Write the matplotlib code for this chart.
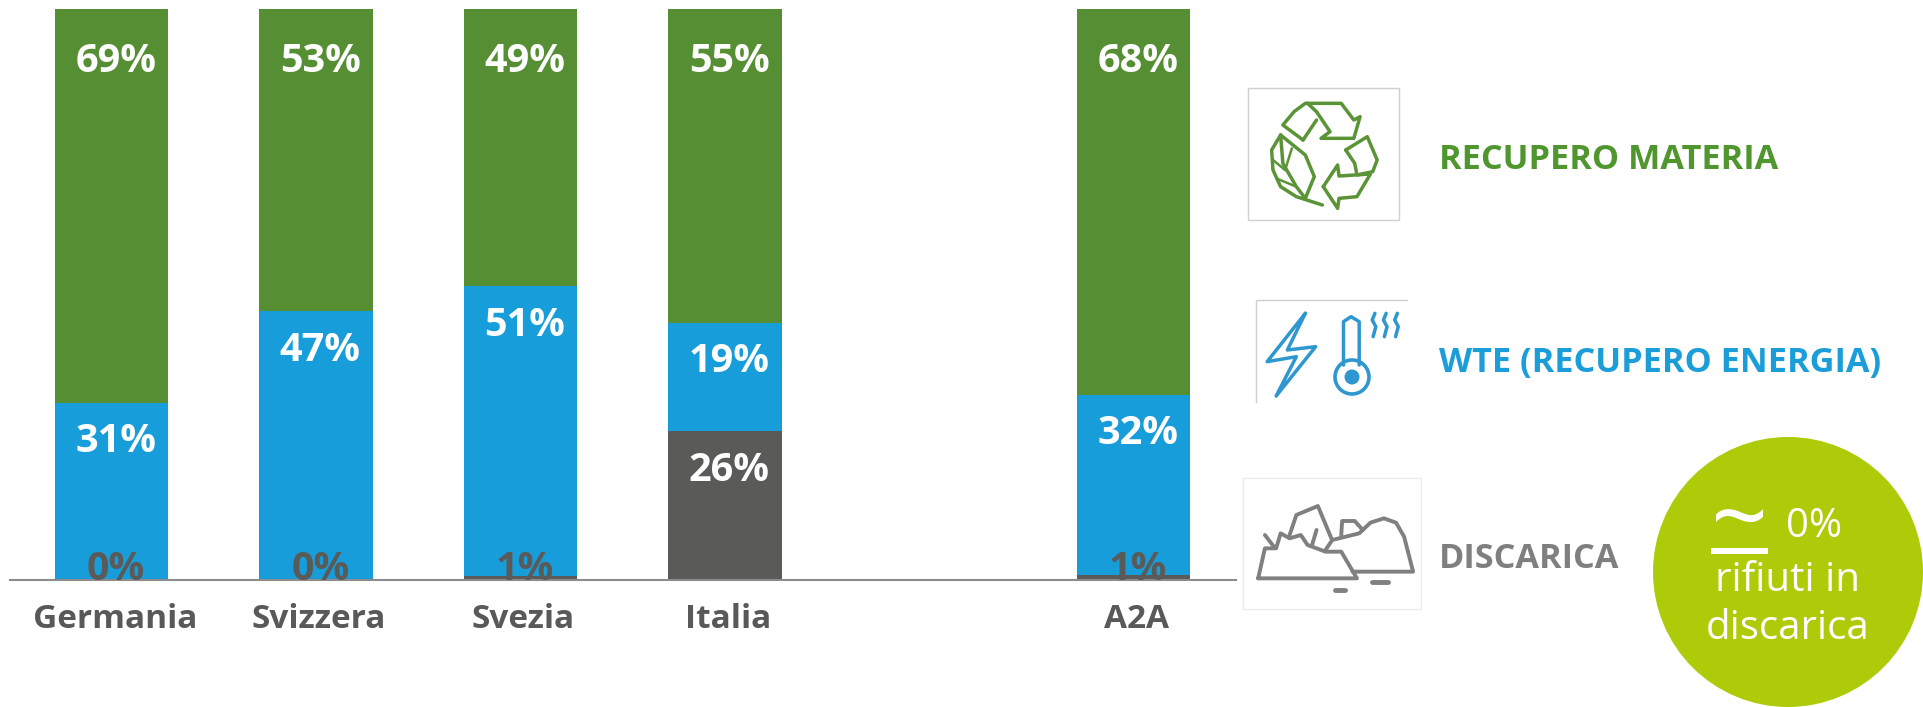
import numpy as np
import matplotlib
matplotlib.use("Agg")
from matplotlib import pyplot as plt
from matplotlib.patches import Circle, Rectangle
from matplotlib.transforms import ScaledTranslation

plt.rcParams['font.family'] = ['Open Sans', 'DejaVu Sans']

#%% data
paesi = ["Germania", "Svizzera", "Svezia", "Italia", "", "A2A"]
discarica = [0, 0, 0.6, 26, np.nan, 0.8]
wte = [31, 47, 50.8, 19, np.nan, 31.6]
materia = [69, 53, 48.6, 55, np.nan, 67.6]

VERDE = "#568f33"
BLU = "#189ddb"
GRIGIO = "#5a5a58"

W, H = 1924, 707
fig = plt.figure(figsize=(W/100, H/100), dpi=100)

#%% stacked bars
ax = fig.add_axes([9.5/W, 1 - 579.5/H, 1226.4/W, 570.5/H])
x = np.arange(len(paesi))
d = np.array(discarica)
w = np.array(wte)
m = np.array(materia)
larg = 0.555
ax.bar(x, d, larg, color=GRIGIO)
ax.bar(x, w, larg, bottom=d, color=BLU)
ax.bar(x, m, larg, bottom=d + w, color=VERDE)
ax.set_xlim(-0.5, 5.5)
ax.set_ylim(0, 100)
ax.set_yticks([])
ax.set_xticks(x)
ax.set_xticklabels(paesi, fontsize=24, fontweight="bold", color="#595959")
ax.tick_params(axis="x", length=0, pad=17)
# labels sit a bit right of the bar centres in the original
for t in ax.get_xticklabels():
    t.set_transform(t.get_transform() + ScaledTranslation(0.03, 0, fig.dpi_scale_trans))
for s in ["top", "left", "right"]:
    ax.spines[s].set_visible(False)
ax.spines["bottom"].set_color("#8c8c8c")
ax.spines["bottom"].set_linewidth(1.5)

def etichetta(xi, top, val, px, col="white"):
    ax.annotate("%.0f%%" % val, (xi, top), xytext=(3, -px*0.72), textcoords="offset points",
                ha="center", va="center", fontsize=28.5, fontweight="bold", color=col, zorder=5)

for i in range(len(paesi)):
    if paesi[i] == "":
        continue
    etichetta(x[i], d[i] + w[i] + m[i], m[i], 53)
    etichetta(x[i], d[i] + w[i], w[i], 39)
    if d[i] > 5:
        etichetta(x[i], d[i], d[i], 39)
    else:
        # the small ones sit on the baseline, dark on the blue
        ax.annotate("%.0f%%" % d[i], (x[i], 0), xytext=(3, 0), textcoords="offset points",
                    ha="center", va="baseline", fontsize=28.5,
                    fontweight="bold", color=GRIGIO, zorder=5)

#%% overlay in pixel coords for icons, legend, circle
ov = fig.add_axes([0, 0, 1, 1], facecolor="none")
ov.set_xlim(0, W)
ov.set_ylim(H, 0)
ov.axis("off")

def zp(pts, y0):
    # points measured on the zoomed crops -> pixels
    pts = np.array(pts, dtype=float)
    return 1220 + pts[:, 0]/2.227, y0 + pts[:, 1]/3.0

def linea(pts, y0, col, lw=2.5):
    xs, ys = zp(pts, y0)
    ov.plot(xs, ys, color=col, lw=lw, solid_capstyle="round", solid_joinstyle="round")

# legend text
ov.text(1439, 160, "RECUPERO MATERIA", color="#4f962f", fontsize=24.7, fontweight="bold", va="center")
ov.text(1439, 363, "WTE (RECUPERO ENERGIA)", color="#1a9dd9", fontsize=24.7, fontweight="bold", va="center")
ov.text(1439, 559, "DISCARICA", color="#7f7f7f", fontsize=24.7, fontweight="bold", va="center")

# icon frames
ov.add_patch(Rectangle((1248, 88), 151, 132, fc="none", ec="#d0d0d0", lw=1))
ov.plot([1256, 1256, 1407], [402, 300, 300], color="#d0d0d0", lw=1)
ov.add_patch(Rectangle((1243, 478), 178, 131, fc="none", ec="#ececec", lw=1))

# recycling icon
G = "#5a9436"
linea([(185,210),(140,165),(165,125),(190,100),(270,100),(298,150),(312,140),(298,205),(225,205),(245,185),(215,125),(195,100)], 70, G)
linea([(185,210),(215,150)], 70, G)
linea([(280,240),(328,200),(350,270),(340,305),(305,315),(300,280),(280,240)], 70, G)
linea([(230,350),(262,285),(265,318),(335,312),(305,380),(265,385),(262,415),(230,350)], 70, G)
linea([(135,195),(115,240),(118,300),(135,350),(170,380),(228,405)], 70, G)
linea([(135,195),(190,255),(210,320),(190,385)], 70, G)
linea([(135,195),(140,280),(170,350),(190,385)], 70, G)
linea([(118,270),(145,300)], 70, G, 1.8)
linea([(125,325),(170,350)], 70, G, 1.8)
linea([(160,235),(145,300)], 70, G, 1.8)

# energy icon
B = "#2f97cf"
linea([(190,730),(105,875),(170,860),(125,978),(213,830),(150,840),(190,730)], 70, B)
linea([(275,885),(275,755),(292,740),(310,755),(310,885)], 70, B)
ov.add_patch(Circle((1352, 377), 17, fc="none", ec=B, lw=2.6))
ov.add_patch(Circle((1352, 377), 7.5, fc=B, ec="none"))
for xo in [345, 370, 395]:
    linea([(xo,730),(xo-6,750),(xo+2,770),(xo-4,800)], 70, B)

# landfill icon
C = "#808080"
linea([(85,475),(100,385),(125,385),(135,340),(155,355),(180,345),(195,375),(235,395),(270,395),(305,475),(85,475)], 420, C, 2.8)
linea([(155,345),(170,285),(218,258),(248,355)], 420, C, 2.8)
linea([(235,390),(250,360),(310,340),(335,308),(365,295),(392,308),(410,350),(430,455),(295,455)], 420, C, 2.8)
linea([(270,345),(272,303),(300,303),(318,330)], 420, C, 2.8)
linea([(100,345),(120,380)], 420, C, 2.8)
linea([(215,330),(205,375)], 420, C, 2.8)
linea([(255,510),(278,510)], 420, C, 3.5)
linea([(338,485),(375,485)], 420, C, 3.5)

# circle
ov.add_patch(Circle((1788, 572), 135, fc="#aecb0a", ec="none"))
ov.text(1740, 525, "~", color="white", fontsize=72, ha="center", va="center")
ov.add_patch(Rectangle((1711, 548), 57, 6, fc="white", ec="none"))
ov.text(1814, 527, "0%", color="white", fontsize=29, ha="center", va="center")
ov.text(1788, 581, "rifiuti in", color="white", fontsize=29, ha="center", va="center")
ov.text(1788, 629, "discarica", color="white", fontsize=29, ha="center", va="center")

fig.savefig("out.png", dpi=100)
